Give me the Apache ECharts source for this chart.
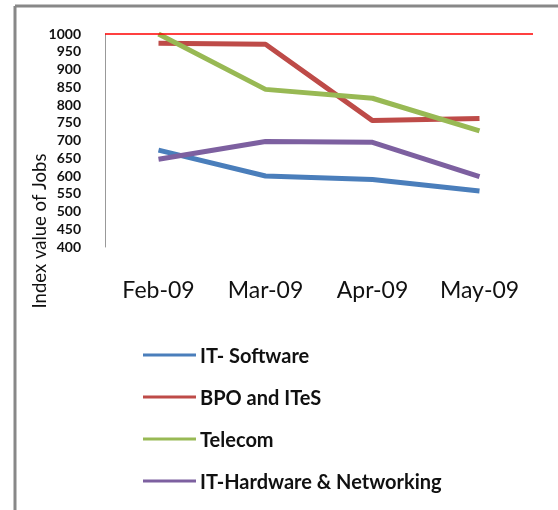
<!DOCTYPE html>
<html><head><meta charset="utf-8">
<script src="https://cdn.jsdelivr.net/npm/echarts@6/dist/echarts.min.js"></script>
<style>html,body{margin:0;padding:0;background:#fff}#c{width:558px;height:510px}</style>
</head><body><div id="c"></div>
<script>
const categories = ['Feb-09', 'Mar-09', 'Apr-09', 'May-09'];
const itSoftware = [673, 600, 590, 558];
const bpoItes = [974, 971, 756, 762];
const telecom = [1000, 844, 819, 727];
const itHardware = [647, 697, 695, 598];
const seriesNames = ['IT- Software', 'BPO and ITeS', 'Telecom', 'IT-Hardware & Networking'];
const seriesColors = ['#4a7ebb', '#be4b48', '#98b954', '#7d60a0'];
const yMin = 400, yMax = 1000, yStep = 50;

const chart = echarts.init(document.getElementById('c'));
const dataSets = [itSoftware, bpoItes, telecom, itHardware];
const series = dataSets.map((d, i) => ({
  name: seriesNames[i], type: 'line', data: d, symbol: 'none',
  lineStyle: { width: 5, color: seriesColors[i] }, itemStyle: { color: seriesColors[i] },
  z: 3
}));
series[0].markLine = {
  silent: true, symbol: 'none', label: { show: false },
  lineStyle: { color: '#ff0000', width: 1.5, type: 'solid' },
  data: [{ yAxis: yMax }]
};
chart.setOption({
  animation: false,
  backgroundColor: '#fff',
  grid: { left: 105, right: 25, top: 34, bottom: 263 },
  xAxis: {
    type: 'category', data: categories, boundaryGap: true,
    axisLine: { show: false }, axisTick: { show: false },
    axisLabel: { margin: 32, fontFamily: 'Lato', fontSize: 23, color: '#111' }
  },
  yAxis: {
    type: 'value', min: yMin, max: yMax, interval: yStep,
    axisLine: { show: true, lineStyle: { color: '#999', width: 1 } },
    axisTick: { show: false }, splitLine: { show: false },
    axisLabel: { margin: 24, fontFamily: 'Lato', fontWeight: 'bold', fontSize: 14, color: '#111',
      formatter: v => String(v) }
  },
  legend: {
    orient: 'vertical', left: 137, top: 341, itemWidth: 53, itemHeight: 22, itemGap: 20,
    data: seriesNames.map(n => ({ name: n, icon: 'rect', itemStyle: { color: 'transparent' } })),
    textStyle: { fontFamily: 'Lato', fontWeight: 'bold', fontSize: 20, color: '#111' }
  },
  graphic: [
    { type: 'line', shape: { x1: 15, y1: 6, x2: 558, y2: 6 }, style: { stroke: '#888', lineWidth: 3 } },
    { type: 'line', shape: { x1: 15, y1: 6, x2: 15, y2: 510 }, style: { stroke: '#888', lineWidth: 3 } },
    ...seriesColors.map((c, i) => ({ type: 'line', shape: { x1: 143, y1: 355 + i * 42, x2: 196, y2: 355 + i * 42 }, style: { stroke: c, lineWidth: 3 } })),
    { type: 'text', x: 40, y: 231, rotation: Math.PI / 2,
      style: { text: 'Index value of Jobs', fontFamily: 'Lato', fontSize: 18.5, fill: '#111', align: 'center', verticalAlign: 'middle' } }
  ],
  series: series
});
</script></body></html>
